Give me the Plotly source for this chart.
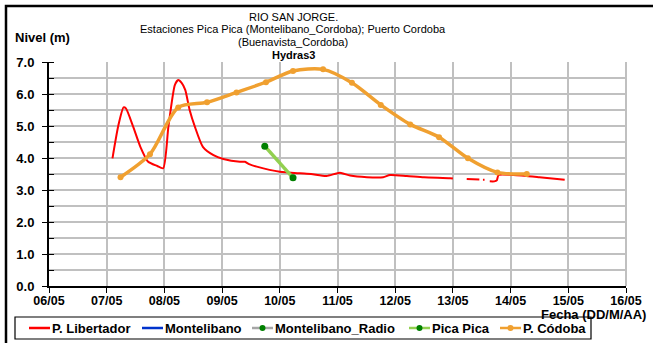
import pandas as pd
import plotly.graph_objects as go

# P. Libertador (red) — gaps are missing readings
libertador_t = [
    "2011-05-07 02:24", "2011-05-07 04:48", "2011-05-07 07:00", "2011-05-07 08:00",
    "2011-05-07 11:00", "2011-05-07 14:00", "2011-05-07 17:15", "2011-05-07 21:00",
    "2011-05-07 23:30", "2011-05-08 01:40", "2011-05-08 04:20", "2011-05-08 05:45",
    "2011-05-08 07:10", "2011-05-08 08:40", "2011-05-08 10:30", "2011-05-08 12:40",
    "2011-05-08 16:00", "2011-05-08 20:25", "2011-05-09 00:30", "2011-05-09 07:25",
    "2011-05-09 09:30", "2011-05-09 11:30", "2011-05-09 14:25", "2011-05-10 00:00",
    "2011-05-10 08:25", "2011-05-10 13:00", "2011-05-10 19:25", "2011-05-11 01:00",
    "2011-05-11 05:15", "2011-05-11 12:15", "2011-05-11 19:00", "2011-05-11 21:50",
    "2011-05-12 04:50", "2011-05-12 12:00", "2011-05-12 22:50", "2011-05-13 00:00",
    "2011-05-13 02:00",
    "2011-05-13 05:45", "2011-05-13 11:00", "2011-05-13 12:00",
    "2011-05-13 12:30", "2011-05-13 13:10", "2011-05-13 14:00",
    "2011-05-13 15:20", "2011-05-13 17:15", "2011-05-13 18:15", "2011-05-13 19:00",
    "2011-05-14 01:10", "2011-05-14 12:00", "2011-05-14 22:30",
]
libertador_v = [
    3.99, 5.00, 5.58, 5.55,
    4.98, 4.35, 3.88, 3.75,
    3.68, 4.98, 6.28, 6.44,
    6.35, 6.13, 5.50, 4.98,
    4.35, 4.09, 3.97, 3.88,
    3.88, 3.80, 3.73, 3.57,
    3.52, 3.50, 3.44, 3.54,
    3.45, 3.40, 3.40, 3.47,
    3.44, 3.40, 3.37, 3.36,
    None,
    3.34, 3.33, None,
    3.32, 3.32, None,
    3.27, 3.27, 3.30, 3.47,
    3.47, 3.40, 3.32,
]

# Pica Pica (green)
picapica_t = ["2011-05-09 17:45", "2011-05-10 05:30"]
picapica_v = [4.37, 3.38]

# P. Códoba (orange)
cordoba_t = [
    "2011-05-07 05:45", "2011-05-07 18:00", "2011-05-08 05:45", "2011-05-08 17:45",
    "2011-05-09 06:00", "2011-05-09 18:15", "2011-05-10 05:30", "2011-05-10 18:00",
    "2011-05-11 06:00", "2011-05-11 18:00", "2011-05-12 06:15", "2011-05-12 18:15",
    "2011-05-13 06:15", "2011-05-13 18:30", "2011-05-14 06:45",
]
cordoba_v = [3.40, 4.12, 5.58, 5.74, 6.05, 6.37, 6.72, 6.77,
             6.35, 5.66, 5.05, 4.65, 3.99, 3.55, 3.50]

# Legend entries: name, line colour, marker colour (None = no marker)
legend_names = ["P. Libertador", "Montelibano", "Montelibano_Radio", "Pica Pica", "P. Códoba"]
legend_lines = ["#ff0000", "#0033cc", "#a6a6a6", "#92d050", "#f0a030"]
legend_marks = [None, None, "#008000", "#008000", "#f0a030"]

x_start, x_end = "2011-05-06", "2011-05-16"
y_ticks = [0, 1, 2, 3, 4, 5, 6, 7]

FONT = "Liberation Sans, Arial, sans-serif"
W, H = 653, 343
L, R, T, B = 49, 27, 62, 57
PW, PH = W - L - R, H - T - B


def px(xp):
    return (xp - L) / PW


def py(yp):
    return (H - B - yp) / PH


fig = go.Figure()
fig.add_trace(go.Scatter(
    x=pd.to_datetime(libertador_t), y=libertador_v, name=legend_names[0],
    mode="lines", line=dict(color=legend_lines[0], width=2, shape="spline", smoothing=0.6),
    connectgaps=False,
))
fig.add_trace(go.Scatter(
    x=pd.to_datetime(picapica_t), y=picapica_v, name=legend_names[3],
    mode="lines+markers", line=dict(color=legend_lines[3], width=3.5),
    marker=dict(color=legend_marks[3], size=7),
))
fig.add_trace(go.Scatter(
    x=pd.to_datetime(cordoba_t), y=cordoba_v, name=legend_names[4],
    mode="lines+markers", line=dict(color=legend_lines[4], width=3.5, shape="spline", smoothing=0.8),
    marker=dict(color=legend_marks[4], size=6),
))

shapes = [
    # grey right border of the plot area
    dict(type="line", xref="paper", yref="paper", x0=1, x1=1, y0=0, y1=1,
         line=dict(color="#c0c0c0", width=2)),
    # outer chart frame
    dict(type="rect", xref="paper", yref="paper", x0=px(6), x1=px(700),
         y0=py(400), y1=py(6), line=dict(color="black", width=2.5)),
    # legend box
    dict(type="rect", xref="paper", yref="paper", x0=px(15), x1=px(591),
         y0=py(339), y1=py(317), line=dict(color="black", width=1.2),
         fillcolor="white", layer="above"),
]
title_font = dict(family=FONT, size=11, color="black")
annotations = [
    dict(text="RIO SAN JORGE.", x=px(293), y=py(17), font=title_font),
    dict(text="Estaciones Pica Pica (Montelibano_Cordoba); Puerto Cordoba", x=px(293), y=py(29.5),
         font=title_font),
    dict(text="(Buenavista_Cordoba)", x=px(293), y=py(42), font=title_font),
    dict(text="<b>Hydras3</b>", x=px(293), y=py(54.5), font=title_font),
    dict(text="<b>Nivel (m)</b>", x=px(13), y=py(38), xanchor="left"),
    dict(text="<b>Fecha (DD/M/AA)</b>", x=px(648), y=py(314), xanchor="right"),
]

# hand-drawn legend row
sample_x0 = [29, 142, 252, 409, 500]
row_y = 328
for name, lc, mc, x0 in zip(legend_names, legend_lines, legend_marks, sample_x0):
    shapes.append(dict(type="line", xref="paper", yref="paper", x0=px(x0), x1=px(x0 + 21),
                       y0=py(row_y), y1=py(row_y), line=dict(color=lc, width=2.5)))
    if mc:
        cx = px(x0 + 10.5)
        cy = py(row_y)
        shapes.append(dict(type="circle", xref="paper", yref="paper",
                           xsizemode="pixel", ysizemode="pixel", xanchor=cx, yanchor=cy,
                           x0=-3, x1=3, y0=-3, y1=3, fillcolor=mc, line=dict(color=mc, width=0)))
    annotations.append(dict(text=f"<b>{name}</b>", x=px(x0 + 21), y=py(row_y), xanchor="left"))

for a in annotations:
    a.update(xref="paper", yref="paper", showarrow=False, yanchor="middle")
    a.setdefault("font", dict(family=FONT, size=13, color="black"))
    a.setdefault("xanchor", "center")

fig.update_layout(
    width=W, height=H,
    margin=dict(l=L, r=R, t=T, b=B, autoexpand=False),
    paper_bgcolor="white", plot_bgcolor="white",
    font=dict(family=FONT, size=12, color="black"),
    showlegend=False,
    xaxis=dict(
        type="date", range=[x_start, x_end], dtick=86400000, tick0=x_start,
        tickformat="%d/%m", showgrid=True, gridcolor="#c0c0c0", gridwidth=2,
        showline=True, linecolor="black", linewidth=2,
        ticks="outside", ticklen=5, tickcolor="black", tickwidth=1,
        tickfont=dict(family=FONT, size=12.5, weight="bold"), zeroline=False,
        ticklabelstandoff=-3,
    ),
    yaxis=dict(
        range=[0, 7], tickvals=y_ticks, tickformat=".1f",
        showgrid=True, gridcolor="#c0c0c0", gridwidth=2,
        showline=True, linecolor="black", linewidth=2,
        ticks="outside", ticklen=5, tickcolor="black", tickwidth=1,
        tickfont=dict(family=FONT, size=13, weight="bold"), zeroline=False,
        ticklabelstandoff=5,
        minor=dict(dtick=0.5, showgrid=True, gridcolor="#c0c0c0", gridwidth=2,
                   ticks="inside", ticklen=5, tickcolor="black"),
    ),
    shapes=shapes,
    annotations=annotations,
)

fig.write_html("out.html")
